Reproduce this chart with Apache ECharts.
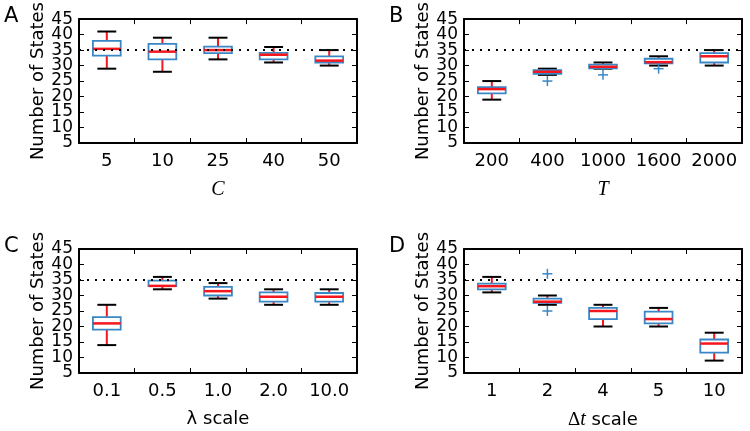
<!DOCTYPE html>
<html>
<head>
<meta charset="utf-8">
<script src="https://cdn.jsdelivr.net/npm/echarts@6/dist/echarts.min.js"></script>
<style>
  html, body { margin: 0; padding: 0; background: #fff; }
  #chart { width: 750px; height: 431px; }
</style>
</head>
<body>
<div id="chart"></div>
<script>
// 每组: [下须, 下四分位, 中位数, 上四分位, 上须]
var aLabels = ['5', '10', '25', '40', '50'];
var aBoxes = [[29, 33.2, 35.4, 38, 41], [28, 32, 34.5, 37, 39], [32, 34, 35, 36.1, 39], [31, 32, 33.5, 34.1, 36], [30, 31, 31.6, 33, 35]];
var aOutliers = [];

var bLabels = ['200', '400', '1000', '1600', '2000'];
var bBoxes = [[19, 21, 22.4, 23, 25], [27, 27.3, 28, 28.5, 29], [29, 29.1, 29.6, 30.3, 31], [30, 30.7, 31.1, 32.2, 33], [30, 31, 33, 34, 35]];
var bOutliers = [[1, 25], [2, 27], [3, 29]];

var cLabels = ['0.1', '0.5', '1.0', '2.0', '10.0'];
var cBoxes = [[14, 19, 21, 23, 27], [32, 33, 33.1, 34.8, 36], [29, 30, 31.4, 32.8, 34], [27, 28, 29.6, 31, 32], [27, 28, 29.6, 30.8, 32]];
var cOutliers = [];

var dLabels = ['1', '2', '4', '5', '10'];
var dBoxes = [[31, 32, 33, 33.8, 36], [27, 27.6, 28, 29, 30], [20, 22.4, 25, 26, 27], [20, 21, 22.4, 24.8, 26], [9, 11.6, 14.5, 15.8, 18]];
var dOutliers = [[1, 37], [1, 25]];

var yTicks = [5, 45, 5]; // min, max, interval
var refLine = 35;

var BLUE = '#3a87c6', RED = '#f5161e', FONT = 'DejaVu Sans';

var myChart = echarts.init(document.getElementById('chart'));

//箱线图
function renderBox(params, api){
    var i = api.value(0);
    var band = api.size([1, 0])[0];
    var hw = band * 0.25, cw = band * 0.17;
    var lo = api.coord([i, api.value(1)]);
    var q1 = api.coord([i, api.value(2)]);
    var md = api.coord([i, api.value(3)]);
    var q3 = api.coord([i, api.value(4)]);
    var hi = api.coord([i, api.value(5)]);
    var x = lo[0];
    function line(x1, y1, x2, y2, color, w){
        return {type: 'line', shape: {x1: x1, y1: y1, x2: x2, y2: y2}, style: {stroke: color, lineWidth: w}};
    }
    return {type: 'group', children: [
        line(x, lo[1], x, q1[1], RED, 2),
        line(x, q3[1], x, hi[1], RED, 2),
        line(x - cw, lo[1], x + cw, lo[1], '#000', 2),
        line(x - cw, hi[1], x + cw, hi[1], '#000', 2),
        {type: 'rect', shape: {x: x - hw, y: q3[1], width: hw * 2, height: q1[1] - q3[1]},
            style: {fill: 'none', stroke: BLUE, lineWidth: 1.8}},
        line(x - hw, md[1], x + hw, md[1], RED, 2.5)
    ]};
}
//离群点 "+"
function renderPlus(params, api){
    var p = api.coord([api.value(0), api.value(1)]);
    var s = 5;
    return {type: 'group', children: [
        {type: 'line', shape: {x1: p[0] - s, y1: p[1], x2: p[0] + s, y2: p[1]}, style: {stroke: BLUE, lineWidth: 1.5}},
        {type: 'line', shape: {x1: p[0], y1: p[1] - s, x2: p[0], y2: p[1] + s}, style: {stroke: BLUE, lineWidth: 1.5}}
    ]};
}

var panels = [
    {letter: 'A', left: 79, top: 19, labels: aLabels, boxes: aBoxes, outliers: aOutliers, name: '{it|C}'},
    {letter: 'B', left: 464, top: 19, labels: bLabels, boxes: bBoxes, outliers: bOutliers, name: '{it|T}'},
    {letter: 'C', left: 79, top: 249, labels: cLabels, boxes: cBoxes, outliers: cOutliers, name: 'λ scale'},
    {letter: 'D', left: 464, top: 249, labels: dLabels, boxes: dBoxes, outliers: dOutliers, name: '{up|Δ}{it|t} scale'}
];

var grid = [], xAxis = [], yAxis = [], series = [], graphic = [];
var axisLine = {show: true, lineStyle: {color: '#000', width: 2}};
var tick = {show: true, inside: true, length: 5, lineStyle: {color: '#000', width: 1}};
var yLabelStyle = {color: '#000', fontSize: 17, fontFamily: FONT, margin: 6, showMinLabel: true, showMaxLabel: true};

panels.forEach(function(p, k){
    grid.push({left: p.left, top: p.top, width: 278, height: 124});
    xAxis.push({
        type: 'category', gridIndex: k, data: p.labels, position: 'bottom',
        axisLine: axisLine, axisTick: tick,
        axisLabel: {color: '#000', fontSize: 18, fontFamily: FONT, margin: 9, interval: 0, hideOverlap: false},
        name: p.name, nameLocation: 'middle', nameGap: 37,
        nameTextStyle: {color: '#000', fontSize: 18, fontFamily: FONT,
            rich: {it: {fontFamily: 'Liberation Serif', fontStyle: 'italic', fontSize: 20},
                   up: {fontFamily: 'Liberation Serif', fontSize: 19}}}
    });
    xAxis.push({
        type: 'category', gridIndex: k, data: p.labels, position: 'top',
        axisLine: axisLine, axisTick: tick, axisLabel: {show: false}
    });
    // 左轴: 5,15,25,35,45 标签
    yAxis.push({
        type: 'value', gridIndex: k, min: yTicks[0], max: yTicks[1], interval: yTicks[2], position: 'left',
        axisLine: axisLine, axisTick: tick, splitLine: {show: false},
        axisLabel: Object.assign({formatter: function(v){ return (v / 5) % 2 === 1 ? String(v) : ''; }}, yLabelStyle),
        name: 'Number of States', nameLocation: 'middle', nameGap: 31, nameRotate: 90,
        nameTextStyle: {color: '#000', fontSize: 18, fontFamily: FONT}
    });
    yAxis.push({
        type: 'value', gridIndex: k, min: yTicks[0], max: yTicks[1], interval: yTicks[2], position: 'right',
        axisLine: axisLine, axisTick: tick, splitLine: {show: false}, axisLabel: {show: false}
    });
    // 左侧另一组标签: 10,20,30,40 (避免重叠被隐藏)
    yAxis.push({
        type: 'value', gridIndex: k, min: yTicks[0], max: yTicks[1], interval: yTicks[2], position: 'left', offset: 0,
        axisLine: {show: false}, axisTick: {show: false}, splitLine: {show: false},
        axisLabel: Object.assign({formatter: function(v){ return (v / 5) % 2 === 0 ? String(v) : ''; }}, yLabelStyle)
    });
    series.push({
        type: 'scatter', xAxisIndex: 2 * k, yAxisIndex: 3 * k, data: [], silent: true,
        markLine: {
            silent: true, symbol: 'none', label: {show: false}, animation: false,
            lineStyle: {color: '#000', type: [2, 6], width: 2},
            data: [{yAxis: refLine}]
        }
    });
    series.push({
        type: 'custom', xAxisIndex: 2 * k, yAxisIndex: 3 * k, renderItem: renderBox,
        encode: {x: 0, y: [1, 2, 3, 4, 5]}, z: 3,
        data: p.boxes.map(function(b, i){ return [i].concat(b); })
    });
    series.push({
        type: 'custom', xAxisIndex: 2 * k, yAxisIndex: 3 * k, renderItem: renderPlus,
        encode: {x: 0, y: 1}, z: 4, data: p.outliers
    });
    graphic.push({
        type: 'text', left: p.left === 79 ? 4 : 389, top: p.top - 13,
        style: {text: p.letter, fontSize: 21, fontFamily: FONT, fill: '#000'}
    });
});

myChart.setOption({
    animation: false,
    grid: grid,
    xAxis: xAxis,
    yAxis: yAxis,
    series: series,
    graphic: graphic
});
</script>
</body>
</html>
